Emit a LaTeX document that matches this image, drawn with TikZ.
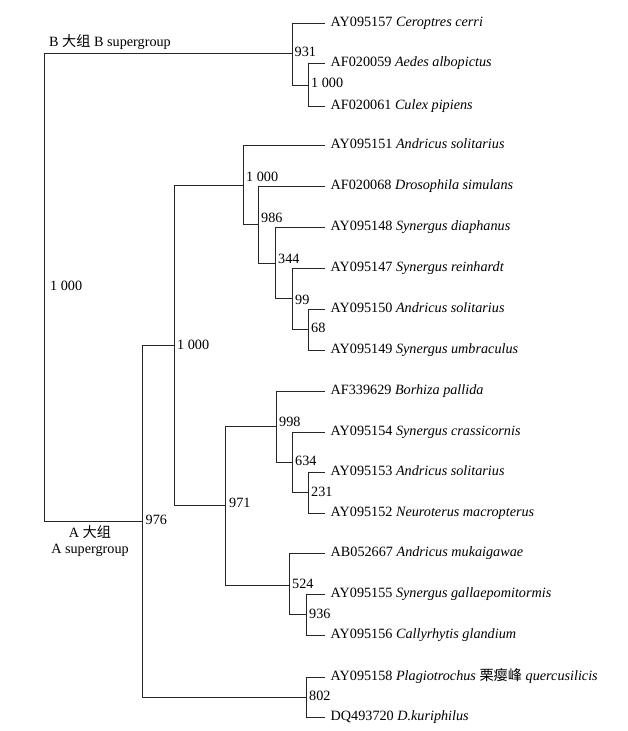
\documentclass[tikz,border=0pt]{standalone}
\usepackage{fontspec}
\setmainfont{Liberation Serif}
\newfontfamily\cjk{Noto Sans CJK SC}
\begin{document}
\begin{tikzpicture}[x=1pt,y=-1pt,
  br/.style={draw=black!85,line width=0.9pt},
  leaf/.style={anchor=west,inner xsep=5.5pt,inner ysep=0pt,text height=0.66em,text depth=0pt,font=\fontsize{14.2}{16}\selectfont},
  boot/.style={anchor=west,inner sep=0pt,text height=0.66em,text depth=0pt,font=\fontsize{14.2}{16}\selectfont},
  grp/.style={inner sep=0pt,text height=0.66em,text depth=0pt,font=\fontsize{14.2}{16}\selectfont}]
\useasboundingbox (0,0) rectangle (628,731);
% internal nodes
\coordinate (root) at (44,287);
\coordinate (n931) at (292,53.5);
\coordinate (nAed) at (308,85);
\coordinate (nA) at (142,521);
\coordinate (nB) at (174,345);
\coordinate (nU) at (243,185);
\coordinate (n986) at (258,224.5);
\coordinate (n344) at (275,263);
\coordinate (n99) at (292,298.5);
\coordinate (n68) at (308,329.5);
\coordinate (n971) at (225,505);
\coordinate (n998) at (276,426);
\coordinate (n634) at (292,462);
\coordinate (n231) at (308,492.5);
\coordinate (n524) at (289,585);
\coordinate (n936) at (306,614.5);
\coordinate (n802) at (306,697);
% leaves
\node[leaf] (l1) at (325,23) {AY095157 \textit{Ceroptres cerri}};
\node[leaf] (l2) at (325,63.5) {AF020059 \textit{Aedes albopictus}};
\node[leaf] (l3) at (325,106.5) {AF020061 \textit{Culex pipiens}};
\node[leaf] (l4) at (325,145) {AY095151 \textit{Andricus solitarius}};
\node[leaf] (l5) at (325,186) {AF020068 \textit{Drosophila simulans}};
\node[leaf] (l6) at (325,227) {AY095148 \textit{Synergus diaphanus}};
\node[leaf] (l7) at (325,268) {AY095147 \textit{Synergus reinhardt}};
\node[leaf] (l8) at (325,309) {AY095150 \textit{Andricus solitarius}};
\node[leaf] (l9) at (325,350) {AY095149 \textit{Synergus umbraculus}};
\node[leaf] (l10) at (325,391) {AF339629 \textit{Borhiza pallida}};
\node[leaf] (l11) at (325,432) {AY095154 \textit{Synergus crassicornis}};
\node[leaf] (l12) at (325,472) {AY095153 \textit{Andricus solitarius}};
\node[leaf] (l13) at (325,513) {AY095152 \textit{Neuroterus macropterus}};
\node[leaf] (l14) at (325,553) {AB052667 \textit{Andricus mukaigawae}};
\node[leaf] (l15) at (325,594) {AY095155 \textit{Synergus gallaepomitormis}};
\node[leaf] (l16) at (325,635) {AY095156 \textit{Callyrhytis glandium}};
\node[leaf] (l17) at (325,677) {AY095158 \textit{Plagiotrochus} {\cjk 栗瘿峰} \textit{quercusilicis}};
\node[leaf] (l18) at (325,717) {DQ493720 \textit{D.kuriphilus}};
% branches
\draw[br] (root) |- (n931);
\draw[br] (root) |- (nA);
\draw[br] (n931) |- (l1.west);
\draw[br] (n931) |- (nAed);
\draw[br] (nAed) |- (l2.west);
\draw[br] (nAed) |- (l3.west);
\draw[br] (nA) |- (nB);
\draw[br] (nA) |- (n802);
\draw[br] (nB) |- (nU);
\draw[br] (nB) |- (n971);
\draw[br] (nU) |- (l4.west);
\draw[br] (nU) |- (n986);
\draw[br] (n986) |- (l5.west);
\draw[br] (n986) |- (n344);
\draw[br] (n344) |- (l6.west);
\draw[br] (n344) |- (n99);
\draw[br] (n99) |- (l7.west);
\draw[br] (n99) |- (n68);
\draw[br] (n68) |- (l8.west);
\draw[br] (n68) |- (l9.west);
\draw[br] (n971) |- (n998);
\draw[br] (n971) |- (n524);
\draw[br] (n998) |- (l10.west);
\draw[br] (n998) |- (n634);
\draw[br] (n634) |- (l11.west);
\draw[br] (n634) |- (n231);
\draw[br] (n231) |- (l12.west);
\draw[br] (n231) |- (l13.west);
\draw[br] (n524) |- (l14.west);
\draw[br] (n524) |- (n936);
\draw[br] (n936) |- (l15.west);
\draw[br] (n936) |- (l16.west);
\draw[br] (n802) |- (l17.west);
\draw[br] (n802) |- (l18.west);
% bootstrap values
\node[boot] (b1) at (50,287) {1 000};
\node[boot] (b2) at (294.5,53) {931};
\node[boot] (b3) at (311,84) {1 000};
\node[boot] (b4) at (246,178) {1 000};
\node[boot] (b5) at (261,219) {986};
\node[boot] (b6) at (278,260) {344};
\node[boot] (b7) at (295,301) {99};
\node[boot] (b8) at (311,329) {68};
\node[boot] (b9) at (145.5,521) {976};
\node[boot] (b10) at (177,346) {1 000};
\node[boot] (b11) at (229,504) {971};
\node[boot] (b12) at (279,423) {998};
\node[boot] (b13) at (295,462) {634};
\node[boot] (b14) at (311,493) {231};
\node[boot] (b15) at (292,585) {524};
\node[boot] (b16) at (309,615) {936};
\node[boot] (b17) at (309,697) {802};
% group labels
\node[grp,anchor=west] (gB) at (49,43) {B {\cjk 大组} B supergroup};
\node[grp] (gA1) at (90,534) {A {\cjk 大组}};
\node[grp] (gA2) at (90,550) {A supergroup};
\end{tikzpicture}
\end{document}
